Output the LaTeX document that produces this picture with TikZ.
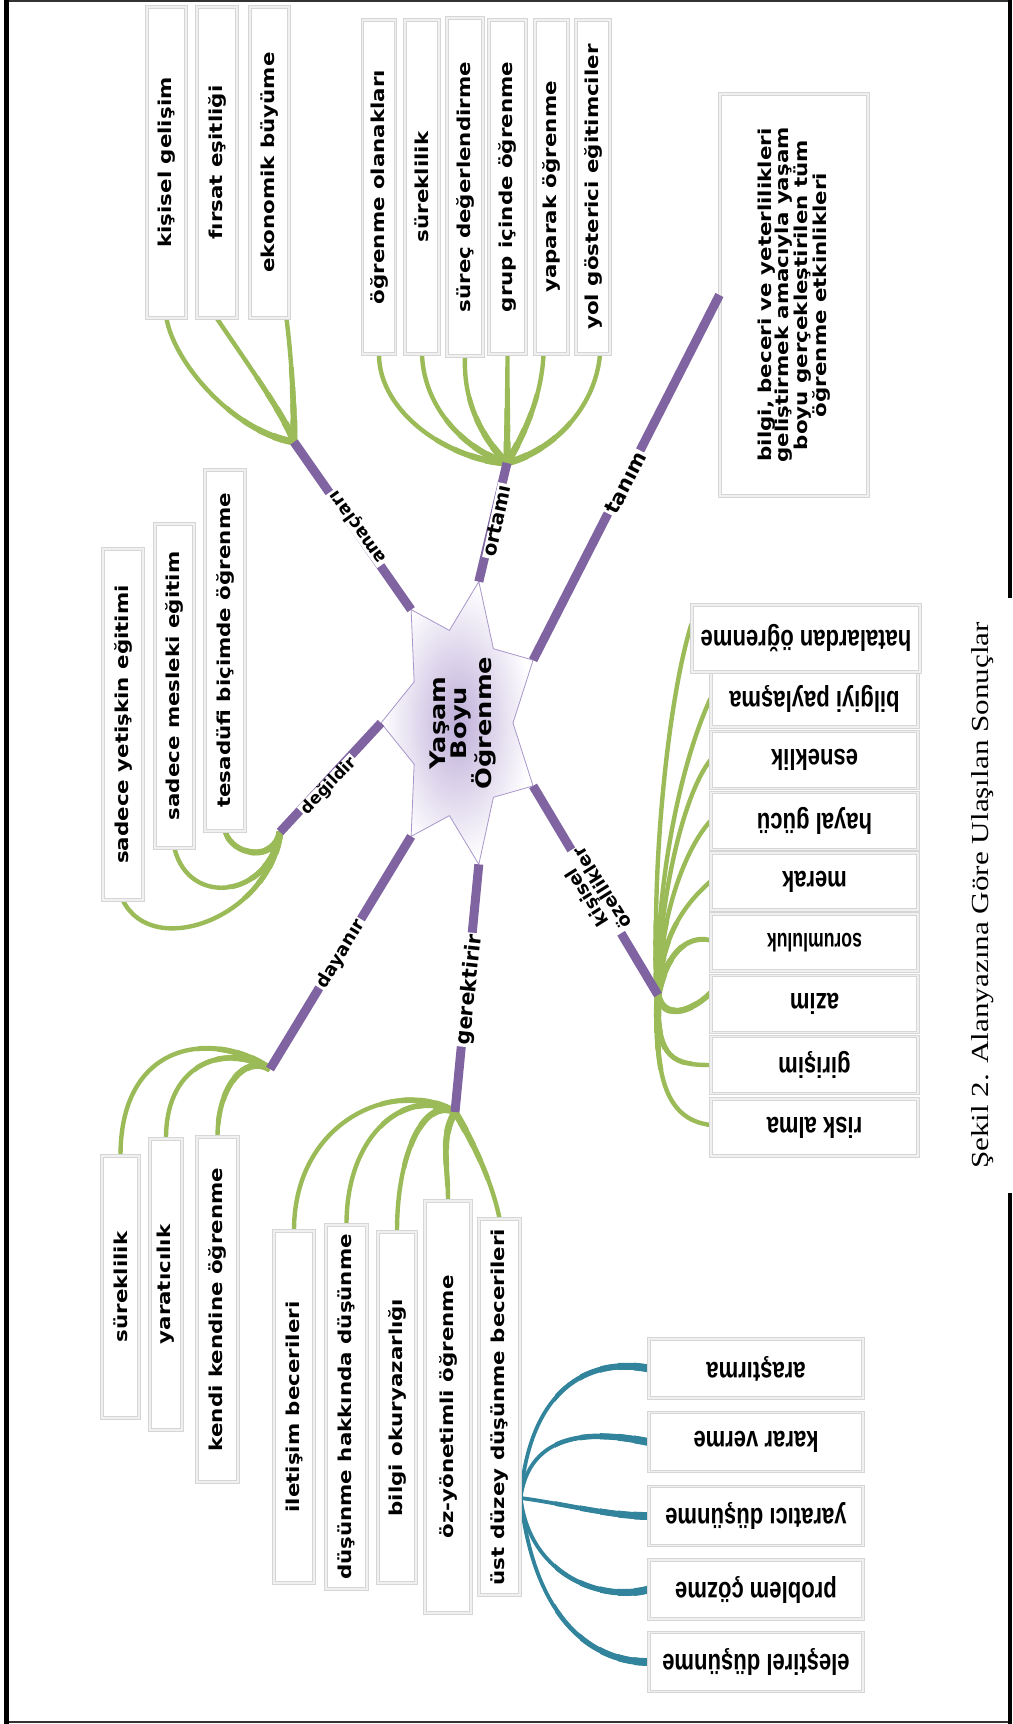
\documentclass[tikz,border=0pt]{standalone}
\usepackage{fontspec}
\usepackage{graphicx}
\usetikzlibrary{backgrounds}
\setmainfont{DejaVu Sans}
\newfontfamily\vfont{DejaVu Sans}[FakeStretch=1.2]
\newfontfamily\hfont{Liberation Sans}[FakeStretch=0.76]
\newfontfamily\capfont{Liberation Serif}[FakeStretch=1.27]
\definecolor{mpurple}{RGB}{128,100,162}
\definecolor{mgreen}{RGB}{155,187,89}
\definecolor{mteal}{RGB}{49,132,155}
\definecolor{starcore}{RGB}{190,174,217}
\definecolor{starline}{RGB}{168,150,202}
\definecolor{boxgray}{RGB}{214,214,214}
\definecolor{boxinner}{RGB}{240,240,240}
\newcommand\lblfont[1]{\bfseries\fontsize{#1}{#1}\selectfont}
\tikzset{
  boxbase/.style={draw=boxgray, line width=1.1pt, double=boxinner, double distance=1.1pt,
                  fill=white, inner sep=0pt, align=center},
  vbox/.style={boxbase, rotate=90, font=\vfont\bfseries\fontsize{17.8}{17.5}\selectfont},
  hbox/.style={boxbase, rotate=180, minimum width=207, minimum height=57,
               font=\hfont\bfseries\fontsize{29}{29}\selectfont},
  branch/.style={draw=mpurple, line width=9pt},
  twig/.style={draw=mgreen, line width=4.4pt},
  tealtwig/.style={draw=mteal, line width=3.8pt},
  blabel/.style={fill=white, inner xsep=2pt, inner ysep=0pt},
}
% connector groups, drawn several times with growing width near their thick ends
\newcommand\curvesA[1]{%
  \draw[#1] (a1.west) .. controls +(8,-45) and +(-60,10) .. (hA);
  \draw[#1] (a2.west) .. controls +(20,-30) and +(-8,25) .. (hA);
  \draw[#1] ([xshift=17]a3.west) .. controls +(5,-40) and +(0,40) .. (hA);}
\newcommand\curvesB[1]{%
  \draw[#1] (b1.west) .. controls +(0,-58) and +(-58,3) .. (hB);
  \draw[#1] (b2.west) .. controls +(2,-55) and +(-40,12) .. (hB);
  \draw[#1] (b3.west) .. controls +(-2,-45) and +(-25,25) .. (hB);
  \draw[#1] (b4.west) -- (hB);
  \draw[#1] ([xshift=-8]b5.west) .. controls +(-2,-45) and +(15,25) .. (hB);
  \draw[#1] ([xshift=7]b6.west) .. controls +(-5,-55) and +(45,12) .. (hB);}
\newcommand\curvesE[1]{%
  \draw[#1] (e1.west) .. controls +(30,-60) and +(-10,-85) .. (hE);
  \draw[#1] (e2.west) .. controls +(15,-60) and +(-10,-65) .. (hE);
  \draw[#1] (e3.west) .. controls +(8,-25) and +(-5,-30) .. (hE);}
\newcommand\curvesF[1]{%
  \draw[#1] (hF) .. controls +(-55,39) and +(0,116) .. (f1.east);
  \draw[#1] (hF) .. controls +(-40,25) and +(0,80) .. (f2.east);
  \draw[#1] (hF) .. controls +(-25,15) and +(0,50) .. (f3.east);}
\newcommand\curvesG[1]{%
  \draw[#1] (hG) .. controls +(-60,35) and +(0,110) .. (g1.east);
  \draw[#1] (hG) .. controls +(-45,25) and +(0,95) .. (g2.east);
  \draw[#1] (hG) .. controls +(-30,15) and +(0,80) .. (g3.east);
  \draw[#1] (hG) .. controls +(-15,-25) and +(0,35) .. (g4.east);
  \draw[#1] (hG) .. controls +(15,-25) and +(-8,40) .. (g5.east);}
\newcommand\curvesD[1]{%
  \draw[#1] (hD) .. controls +(-8,110) and +(-25,-80) .. ([yshift=14.5]d0.east);
  \draw[#1] (hD) .. controls +(-3,110) and +(-30,-65) .. (d1.east);
  \draw[#1] (hD) .. controls +(0,90) and +(-28,-35) .. (d2.east);
  \draw[#1] (hD) .. controls +(2,80) and +(-25,-27) .. (d3.east);
  \draw[#1] (hD) .. controls +(3,60) and +(-25,-22) .. (d4.east);
  \draw[#1] (hD) .. controls +(8,40) and +(-25,5) .. ([yshift=2.5]d5.east);
  \draw[#1] (hD) .. controls +(5,-25) and +(-20,-20) .. ([yshift=11]d6.east);
  \draw[#1] (hD) .. controls +(-3,-65) and +(-35,0) .. (d7.east);
  \draw[#1] (hD) .. controls +(-5,-90) and +(-40,5) .. ([yshift=2.5]d8.east);}
\newcommand\curvesT[1]{%
  \draw[#1] (hS) .. controls +(10,120) and +(-50,10) .. (t1.east);
  \draw[#1] (hS) .. controls +(10,75) and +(-40,8) .. (t2.east);
  \draw[#1] (hS) .. controls +(40,-5) and +(-40,0) .. (t3.east);
  \draw[#1] (hS) .. controls +(10,-80) and +(-45,-12) .. (t4.east);
  \draw[#1] (hS) .. controls +(15,-130) and +(-50,0) .. (t5.east);}
\newcommand\hubthick[2]{% #1 hub, #2 curve group
  \foreach \rad/\wid in {75/5.0, 55/5.6, 38/6.2, 22/7.0}{%
    \begin{scope}\clip (#1) circle (\rad); #2{twig, line width=\wid pt}\end{scope}}}
\begin{document}
\begin{tikzpicture}[x=1pt, y=1pt]
\useasboundingbox (0,0) rectangle (1012,-1724);

% ---------- boxes: amaçları ----------
\node[vbox, minimum width=311, minimum height=39] (a1) at (166.5,-162.5) {kişisel gelişim};
\node[vbox, minimum width=311, minimum height=40] (a2) at (217,-162.5) {fırsat eşitliği};
\node[vbox, minimum width=311, minimum height=39] (a3) at (269.5,-162.5) {ekonomik büyüme};

% ---------- boxes: ortamı ----------
\node[vbox, minimum width=334, minimum height=33] (b1) at (379,-187) {öğrenme olanakları};
\node[vbox, minimum width=334, minimum height=34] (b2) at (422,-187) {süreklilik};
\node[vbox, minimum width=338, minimum height=36] (b3) at (465,-187) {süreç değerlendirme};
\node[vbox, minimum width=334, minimum height=37] (b4) at (507.5,-187) {grup içinde öğrenme};
\node[vbox, minimum width=334, minimum height=33] (b5) at (551.5,-187) {yaparak öğrenme};
\node[vbox, minimum width=334, minimum height=34] (b6) at (593,-187) {yol gösterici eğitimciler};

% ---------- definition box ----------
\node[vbox, minimum width=402, minimum height=148] (def) at (794,-295)
  {bilgi, beceri ve yeterlilikleri\\geliştirmek amacıyla yaşam\\boyu gerçekleştirilen tüm\\öğrenme etkinlikleri};

% ---------- boxes: değildir ----------
\node[vbox, minimum width=351, minimum height=40] (e1) at (123,-724.5) {sadece yetişkin eğitimi};
\node[vbox, minimum width=324, minimum height=39] (e2) at (174.5,-686) {sadece mesleki eğitim};
\node[vbox, minimum width=361, minimum height=40] (e3) at (225,-650.5) {tesadüfi biçimde öğrenme};

% ---------- boxes: dayanır ----------
\node[vbox, minimum width=262, minimum height=37] (f1) at (120.5,-1287) {süreklilik};
\node[vbox, minimum width=291, minimum height=32] (f2) at (166,-1284.5) {yaratıcılık};
\node[vbox, minimum width=345, minimum height=41] (f3) at (217.5,-1309.5) {kendi kendine öğrenme};

% ---------- boxes: gerektirir ----------
\node[vbox, minimum width=352, minimum height=40] (g1) at (294,-1407) {iletişim becerileri};
\node[vbox, minimum width=364, minimum height=41] (g2) at (346.5,-1407) {düşünme hakkında düşünme};
\node[vbox, minimum width=351, minimum height=38] (g3) at (397,-1407.5) {bilgi okuryazarlığı};
\node[vbox, minimum width=412, minimum height=46] (g4) at (448,-1407) {öz-yönetimli öğrenme};
\node[vbox, minimum width=376, minimum height=41] (g5) at (499.5,-1407) {üst düzey düşünme becerileri};

% ---------- boxes: higher-order thinking skills ----------
\node[hbox, minimum width=214, minimum height=59] (t1) at (756,-1368.5) {araştırma};
\node[hbox, minimum width=214, minimum height=59] (t2) at (756,-1442) {karar verme};
\node[hbox, minimum width=214, minimum height=59] (t3) at (756,-1516) {yaratıcı düşünme};
\node[hbox, minimum width=214, minimum height=59] (t4) at (756,-1589.5) {problem çözme};
\node[hbox, minimum width=214, minimum height=59] (t5) at (756,-1662) {eleştirel düşünme};

% ---------- boxes: kişisel özellikler ----------
\node[hbox] (d1) at (814.5,-698.5) {bilgiyi paylaşma};
\node[hbox, minimum width=228, minimum height=67] (d0) at (806,-638.5) {hatalardan öğrenme};
\node[hbox] (d2) at (814.5,-760) {esneklik};
\node[hbox] (d3) at (814.5,-821) {hayal gücü};
\node[hbox] (d4) at (814.5,-881.5) {merak};
\node[hbox] (d5) at (814.5,-942.5) {\scalebox{0.8}[0.88]{sorumluluk}};
\node[hbox] (d6) at (814.5,-1004) {azim};
\node[hbox] (d7) at (814.5,-1065) {girişim};
\node[hbox] (d8) at (814.5,-1127.5) {risk alma};

% ---------- hubs ----------
\coordinate (hA) at (294,-442);
\coordinate (hB) at (507,-463);
\coordinate (hD) at (658,-995);
\coordinate (hE) at (280,-832);
\coordinate (hF) at (270,-1069);
\coordinate (hG) at (455,-1112);
\coordinate (hS) at ([yshift=-91]g5.south);

% ---------- connectors to the boxes ----------
\begin{pgfonlayer}{background}
\curvesA{twig}\hubthick{hA}{\curvesA}
\curvesB{twig}\hubthick{hB}{\curvesB}
\curvesE{twig}\hubthick{hE}{\curvesE}
\curvesF{twig}\hubthick{hF}{\curvesF}
\curvesG{twig}\hubthick{hG}{\curvesG}
\curvesD{twig}\hubthick{hD}{\curvesD}
\curvesT{tealtwig}
\foreach \xl/\wid in {555/4.6, 580/5.4, 600/6.2, 618/7.0, 634/7.8}{%
  \begin{scope}\clip (\xl,-1300) rectangle (700,-1720); \curvesT{tealtwig, line width=\wid pt}\end{scope}}
\end{pgfonlayer}

% ---------- central star ----------
\begin{scope}[shift={(461,-723)}]
\shadedraw[draw=starline, line width=0.8pt, inner color=starcore, outer color=white]
  (180:80 and 145) -- (205.71:52 and 95) -- (231.43:80 and 145) -- (257.14:52 and 95)
  -- (282.86:80 and 145) -- (308.57:52 and 95) -- (334.29:80 and 145) -- (0:52 and 95)
  -- (25.71:80 and 145) -- (51.43:52 and 95) -- (77.14:80 and 145) -- (102.86:52 and 95)
  -- (128.57:80 and 145) -- (154.29:52 and 95) -- cycle;
\coordinate (tE) at (180:80 and 145);
\coordinate (tA) at (128.57:80 and 145);
\coordinate (tB) at (77.14:80 and 145);
\coordinate (tT) at (25.71:80 and 145);
\coordinate (tD) at (-25.71:80 and 145);
\coordinate (tG) at (-77.14:80 and 145);
\coordinate (tF) at (-128.57:80 and 145);
\end{scope}

% ---------- main branches ----------
\draw[branch] (tA) -- (hA);
\draw[branch] (tB) -- (hB);
\draw[branch] (tT) -- (def.north);
\draw[branch] (tD) -- (hD);
\draw[branch] (tE) -- (hE);
\draw[branch] (tF) -- (hF);
\draw[branch] (tG) -- (hG);

% ---------- branch labels ----------
\node[blabel, rotate=125.6, font=\lblfont{17.6}] (lA) at (358,-527) {amaçları};
\node[blabel, rotate=77.9, font=\lblfont{19.5}] (lB) at (497,-521) {ortamı};
\node[blabel, rotate=62.6, font=\lblfont{20.5}] (lT) at (626,-483) {tanım};
\node[blabel, rotate=122.3, align=center, font=\lblfont{18}] (lD) at (594,-893) {kişisel\\özellikler};
\node[blabel, rotate=46.1, font=\lblfont{16.5}] (lE) at (329,-786) {değildir};
\node[blabel, rotate=58.5, font=\lblfont{18}] (lF) at (341,-954) {dayanır};
\node[blabel, rotate=83.8, font=\lblfont{20.5}] (lG) at (470,-990) {gerektirir};

% ---------- star title ----------
\node[rotate=90, align=center, inner sep=0pt, font=\vfont\bfseries\fontsize{21.4}{20.5}\selectfont] (core) at (463,-723)
  {Yaşam\\Boyu\\Öğrenme};

% ---------- caption ----------
\node[rotate=90, inner sep=0pt, font=\capfont\fontsize{24.5}{24.5}\selectfont] (cap) at (983,-895.5)
  {Şekil 2. Alanyazına Göre Ulaşılan Sonuçlar};

% ---------- page frame ----------
\draw[black!80, line width=1.5pt] (4,-0.75) -- (1008,-0.75);
\draw[black!80, line width=1.5pt] (4,-1722) -- (1008,-1722);
\draw[black, line width=5pt] (6.5,0) -- (6.5,-1724);
\draw[black, line width=4pt] (1010,0) -- (1010,-598);
\draw[black, line width=4pt] (1010,-1193) -- (1010,-1724);
\end{tikzpicture}
\end{document}
